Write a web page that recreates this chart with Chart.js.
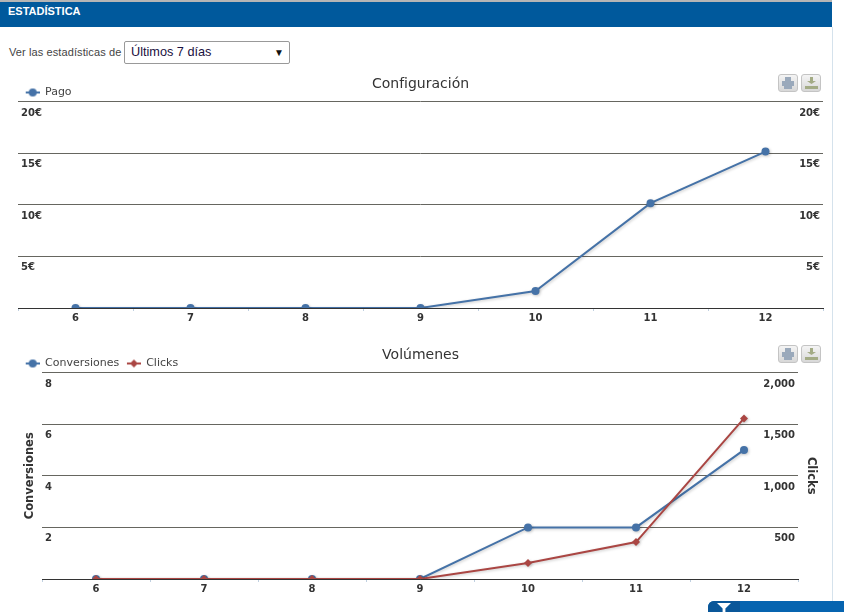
<!doctype html>
<html lang="es">
<head>
<meta charset="utf-8">
<title>Estadística</title>
<script src="https://cdn.jsdelivr.net/npm/chart.js"></script>
<style>
  html,body{margin:0;padding:0;background:#fff;overflow:hidden}
  body{width:844px;height:612px;position:relative;font-family:"Liberation Sans",Arial,sans-serif}
  #bar{position:absolute;left:0;top:0;width:832px;height:27px;background:#00599c;border-top:2px solid #b5b5b5;box-sizing:border-box;
       color:#fff;font:bold 11px/19px "Liberation Sans",Arial,sans-serif;padding-left:8px}
  #edge{position:absolute;left:832px;top:27px;width:1px;height:585px;background:#d5e2ec}
  #lbl{position:absolute;left:9px;top:46px;font-size:11px;color:#444;letter-spacing:.1px}
  #sel{position:absolute;left:124px;top:41px;width:166px;height:23px;border:1px solid #999;border-radius:2px;box-sizing:border-box;
       font:12.7px "Liberation Sans",Arial,sans-serif;color:#1a1040;background:#fff;padding-left:6px;line-height:21px}
  #sel i{position:absolute;right:5px;top:0;font-style:normal;font-size:10px;color:#111}
  canvas{position:absolute;left:0}
  #c1{top:70px} #c2{top:341px}
  .btn{position:absolute;width:20px;height:18px;border:1px solid #c4c4c4;border-radius:3px;box-sizing:border-box;
       background:linear-gradient(#f4f4f4,#d8d8d8);z-index:2}
  .btn b{position:absolute;background:#9aa9bb}
  .btn.d b{background:#a3ab85}
  .p1{left:6px;width:6px;top:2px;height:4px}
  .p2{left:3px;width:12px;top:6px;height:5px}
  .p3{left:5px;width:8px;top:11px;height:3px}
  .d1{left:8px;width:3px;top:2px;height:4px}
  .d2{left:5px;width:9px;top:6px;height:3px;clip-path:polygon(0 0,100% 0,50% 100%)}
  .d3{left:3px;width:13px;top:11px;height:3px}
  #tab{position:absolute;left:708px;top:601px;width:136px;height:11px;background:#0664b0;border-radius:6px 0 0 0;overflow:hidden}
  #tab u{position:absolute;left:0;top:0;width:32px;height:11px;background:#0a5799}
  #tab s{position:absolute;left:9px;top:2px;width:14px;height:9px;background:#fff;clip-path:polygon(0 0,100% 0,60% 60%,60% 100%,40% 100%,40% 60%)}
</style>
</head>
<body>
<div id="bar">ESTADÍSTICA</div>
<div id="edge"></div>
<div id="lbl">Ver las estadísticas de</div>
<div id="sel">Últimos 7 días<i>▼</i></div>

<div class="btn" style="left:778px;top:74px"><b class="p1"></b><b class="p2"></b><b class="p3"></b></div>
<div class="btn d" style="left:801px;top:74px"><b class="d1"></b><b class="d2"></b><b class="d3"></b></div>
<div class="btn" style="left:778px;top:345px"><b class="p1"></b><b class="p2"></b><b class="p3"></b></div>
<div class="btn d" style="left:801px;top:345px"><b class="d1"></b><b class="d2"></b><b class="d3"></b></div>
<div id="tab"><u></u><s></s></div>

<canvas id="c1" width="841" height="260"></canvas>
<canvas id="c2" width="841" height="260"></canvas>

<script>
/* ---------- data ------------------------------------------------------ */
const days        = ['6','7','8','9','10','11','12'];
const pago        = [0,0,0,0,1.65,10.15,15.15];
const conversiones= [0,0,0,0,2,2,5];
const clicks      = [0,0,0,0,155,358,1555];

const BLUE='#4572a7', RED='#aa4643', GRID='#666660';
const TICKFONT={family:'"DejaVu Sans"',size:10,weight:'bold'};
const TEXT='#333';

/* ---------- helpers --------------------------------------------------- */
function legendIcon(color,isDiamond){
  const c=document.createElement('canvas'); c.width=20; c.height=10;
  const g=c.getContext('2d');
  g.strokeStyle=color; g.fillStyle=color; g.lineWidth=2;
  g.beginPath(); g.moveTo(6,5); g.lineTo(20,5); g.stroke();
  g.beginPath();
  if(isDiamond){g.moveTo(13,1);g.lineTo(17,5);g.lineTo(13,9);g.lineTo(9,5);g.closePath();}
  else g.arc(13,5,4,0,Math.PI*2);
  g.fill();
  return c;
}
const lineShadow={
  id:'lineShadow',
  beforeDatasetDraw(ch){const x=ch.ctx;x.save();x.shadowColor='rgba(0,0,0,.22)';x.shadowBlur=3;x.shadowOffsetX=1;x.shadowOffsetY=1;},
  afterDatasetDraw(ch){ch.ctx.restore();}
};
// legend always reserves 10px extra below itself, the plot sits tighter here
const shortLegend={
  id:'shortLegend',
  beforeLayout(ch){
    const l=ch.legend, fit=l.fit;
    if(l._short) return;
    l._short=true;
    l.fit=function(){fit.call(this); this.height=16.5;};
  }
};
function yAxis(position,max,step,fmt,title,width){
  return {
    position,min:0,max,
    afterFit(s){s.width=width;},
    border:{display:false},
    grid:position==='left'?{color:GRID,drawTicks:false,lineWidth:1}:{display:false,drawTicks:false},
    ticks:{mirror:true,padding:position==='left'?3:-3,labelOffset:11.5,stepSize:step,color:TEXT,font:TICKFONT,
           callback:v=>v===0?'':fmt(v)},
    title:title?{display:true,text:title,color:TEXT,padding:{top:5.5,bottom:0},
                 font:{family:'"DejaVu Sans"',size:11.5,weight:'bold'}}:{display:false}
  };
}
function xAxis(){
  return {
    offset:true,
    afterFit(s){s.height=22;},
    border:{color:'#333',width:1},
    grid:{offset:true,drawOnChartArea:false,drawTicks:true,tickLength:3,color:'#c0d0e0'},
    ticks:{color:TEXT,font:TICKFONT,padding:1,maxRotation:0}
  };
}
function commonPlugins(titleText){
  return {
    title:{display:true,text:titleText,color:'#333',padding:{top:6,bottom:-7.8},
           font:{family:'"DejaVu Sans"',size:14,weight:'normal'}},
    legend:{position:'top',align:'start',
      labels:{usePointStyle:true,pointStyleWidth:19.5,boxHeight:10,padding:2,color:'#444',
              font:{family:'"DejaVu Sans"',size:11},
              generateLabels(ch){
                return ch.data.datasets.map((d,i)=>({text:d.label,datasetIndex:i,fontColor:'#444',
                  pointStyle:legendIcon(d.borderColor,d.pointStyle==='rectRot'),lineWidth:0,
                  strokeStyle:'transparent',fillStyle:'transparent'}));
              }}},
    tooltip:{enabled:false}
  };
}
function series(label,data,color,style,radius,yAxisID,order){
  return {label,data,yAxisID,order,borderColor:color,backgroundColor:color,borderWidth:2,
          pointStyle:style,pointRadius:radius,pointBorderWidth:0,tension:0};
}

/* ---------- charts ---------------------------------------------------- */
new Chart(document.getElementById('c1'),{
  type:'line',
  plugins:[lineShadow,shortLegend],
  data:{labels:days,datasets:[series('Pago',pago,BLUE,'circle',4,'y',1)]},
  options:{
    responsive:false,animation:false,
    layout:{padding:{left:18,right:18,top:0,bottom:0}},
    plugins:commonPlugins('Configuración'),
    scales:{
      x:xAxis(),
      y:yAxis('left',20,5,v=>v+'€',null,0),
      yr:yAxis('right',20,5,v=>v+'€',null,0)
    }
  }
});

new Chart(document.getElementById('c2'),{
  type:'line',
  plugins:[lineShadow,shortLegend],
  data:{labels:days,datasets:[
    series('Conversiones',conversiones,BLUE,'circle',4,'y',2),
    series('Clicks',clicks,RED,'rectRot',4,'y1',1)
  ]},
  options:{
    responsive:false,animation:false,
    layout:{padding:{left:18,right:18,top:0,bottom:0}},
    plugins:commonPlugins('Volúmenes'),
    scales:{
      x:xAxis(),
      y:yAxis('left',8,2,v=>String(v),'Conversiones',24),
      y1:yAxis('right',2000,500,v=>v.toLocaleString('en-US'),'Clicks',25)
    }
  }
});
</script>
</body>
</html>
